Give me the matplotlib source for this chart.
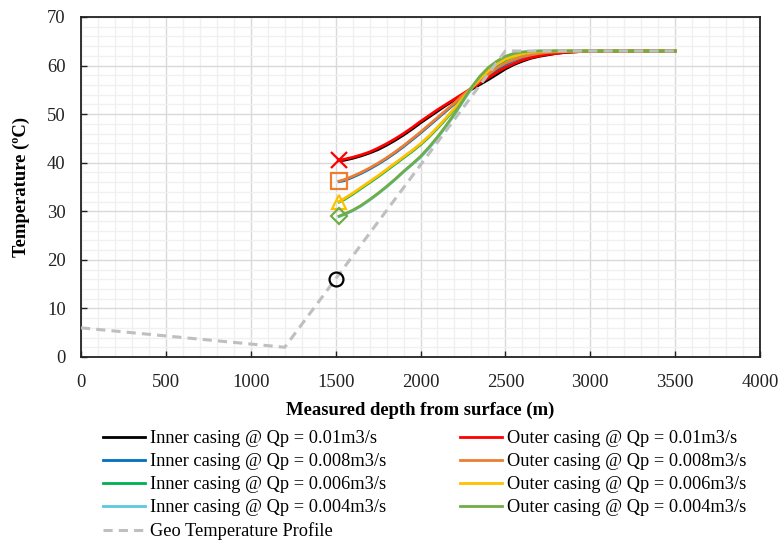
import matplotlib
matplotlib.use("Agg")
import matplotlib.pyplot as plt
from matplotlib.ticker import MultipleLocator

plt.rcParams['font.family'] = ['Liberation Serif', 'DejaVu Serif']

# ---- data ----
depth = [1520, 1550, 1600, 1650, 1700, 1750, 1800, 1850, 1900, 1950, 2000,
         2050, 2100, 2150, 2200, 2250, 2300, 2350, 2400, 2450, 2500,
         2550, 2600, 2650, 2700, 2750, 2800, 2850, 2900, 2950, 3000, 3500]

inner_001 = [40.4, 40.5, 40.9, 41.4, 42.0, 42.7, 43.6, 44.6, 45.7, 46.9, 48.2,
             49.4, 50.6, 51.8, 52.9, 54.0, 55.1, 56.1, 57.1, 58.2, 59.3,
             60.2, 60.9, 61.5, 61.9, 62.2, 62.5, 62.7, 62.8, 62.9, 62.95, 63.0]
inner_0008 = [36.1, 36.3, 37.0, 37.8, 38.7, 39.7, 40.8, 42.0, 43.3, 44.7, 46.1,
              47.6, 49.1, 50.6, 52.1, 53.7, 55.2, 56.6, 57.9, 59.1, 60.2,
              61.0, 61.6, 62.1, 62.4, 62.6, 62.8, 62.9, 62.95, 63.0, 63.0, 63.0]
inner_0006 = [31.9, 32.4, 33.5, 34.7, 35.9, 37.1, 38.4, 39.7, 41.0, 42.3, 43.7,
              45.3, 47.1, 49.0, 51.0, 53.1, 55.2, 57.1, 58.7, 60.1, 61.1,
              61.8, 62.3, 62.6, 62.8, 62.9, 63.0, 63.0, 63.0, 63.0, 63.0, 63.0]
inner_0004 = [28.9, 29.3, 30.1, 31.1, 32.3, 33.6, 35.0, 36.5, 38.1, 39.6, 41.1,
              43.0, 45.1, 47.4, 49.9, 52.6, 55.3, 57.6, 59.4, 60.8, 61.8,
              62.4, 62.7, 62.9, 63.0, 63.0, 63.0, 63.0, 63.0, 63.0, 63.0, 63.0]
outer_001 = [40.5, 40.7, 41.1, 41.6, 42.2, 43.0, 43.9, 44.9, 46.0, 47.2, 48.5,
             49.7, 50.9, 52.0, 53.1, 54.2, 55.3, 56.4, 57.5, 58.6, 59.6,
             60.4, 61.1, 61.6, 62.0, 62.3, 62.5, 62.7, 62.8, 62.9, 62.95, 63.0]
outer_0008 = [36.2, 36.5, 37.2, 38.0, 38.9, 39.9, 41.0, 42.2, 43.5, 44.9, 46.3,
              47.8, 49.3, 50.8, 52.3, 53.9, 55.4, 56.9, 58.2, 59.5, 60.5,
              61.2, 61.8, 62.2, 62.5, 62.7, 62.8, 62.9, 62.95, 63.0, 63.0, 63.0]
outer_0006 = [32.0, 32.6, 33.7, 34.9, 36.1, 37.3, 38.6, 39.9, 41.2, 42.5, 43.9,
              45.5, 47.3, 49.2, 51.2, 53.3, 55.4, 57.3, 58.9, 60.3, 61.3,
              61.9, 62.4, 62.7, 62.85, 62.95, 63.0, 63.0, 63.0, 63.0, 63.0, 63.0]
outer_0004 = [29.0, 29.4, 30.2, 31.2, 32.4, 33.7, 35.1, 36.6, 38.2, 39.7, 41.3,
              43.2, 45.3, 47.6, 50.1, 52.8, 55.5, 57.8, 59.6, 60.9, 61.9,
              62.5, 62.8, 62.9, 63.0, 63.0, 63.0, 63.0, 63.0, 63.0, 63.0, 63.0]

geo_depth = [0, 1200, 2500, 3500]
geo_temp = [6, 2, 63, 63]

# start markers
marker_depth = [1520, 1520, 1520, 1520, 1500]
marker_temp = [40.5, 36.2, 32.0, 29.0, 16.0]

inner_labels = ["Inner casing @ Qp = 0.01m3/s", "Inner casing @ Qp = 0.008m3/s",
                "Inner casing @ Qp = 0.006m3/s", "Inner casing @ Qp = 0.004m3/s"]
outer_labels = ["Outer casing @ Qp = 0.01m3/s", "Outer casing @ Qp = 0.008m3/s",
                "Outer casing @ Qp = 0.006m3/s", "Outer casing @ Qp = 0.004m3/s"]
geo_label = "Geo Temperature Profile"

inner_colors = ["#000000", "#0070C0", "#00B050", "#5BC8E0"]
outer_colors = ["#FF0000", "#ED7D31", "#FFC000", "#70AD47"]

FS = 13.4
LFS = 13.2

fig = plt.figure(figsize=(7.79, 5.55), dpi=100)
ax = fig.add_axes([0.104, 0.3568, 0.8716, 0.6126])

inner_series = [inner_001, inner_0008, inner_0006, inner_0004]
outer_series = [outer_001, outer_0008, outer_0006, outer_0004]

handles = []
for vals, c, lab in zip(inner_series, inner_colors, inner_labels):
    h, = ax.plot(depth, vals, color=c, lw=2.0, label=lab, zorder=3,
                 solid_joinstyle="round")
    handles.append(h)
hg, = ax.plot(geo_depth, geo_temp, color="#BFBFBF", lw=2.2, ls=(0, (3, 2)),
              label=geo_label, zorder=4)
outer_handles = []
for vals, c, lab in zip(outer_series, outer_colors, outer_labels):
    h, = ax.plot(depth, vals, color=c, lw=2.0, label=lab, zorder=3.5,
                 solid_joinstyle="round")
    outer_handles.append(h)

# markers
mk_styles = [("x", "#FF0000", 12), ("s", "#ED7D31", 12), ("^", "#FFC000", 10),
             ("D", "#70AD47", 8), ("o", "#000000", 10)]
for xd, yt, (m, c, s) in zip(marker_depth, marker_temp, mk_styles):
    ax.plot([xd], [yt], marker=m, ms=s, mfc="none", mec=c, mew=1.6,
            ls="none", zorder=5)

ax.set_xlim(0, 4000)
ax.set_ylim(0, 70)
ax.xaxis.set_major_locator(MultipleLocator(500))
ax.xaxis.set_minor_locator(MultipleLocator(100))
ax.yaxis.set_major_locator(MultipleLocator(10))
ax.yaxis.set_minor_locator(MultipleLocator(2))
ax.grid(which="major", color="#D9D9D9", lw=1.0, zorder=0)
ax.grid(which="minor", color="#F0F0F0", lw=1.0, zorder=0)
ax.set_axisbelow(True)
ax.tick_params(which="major", direction="in", length=4, width=1,
               labelsize=FS, colors="#222222")
ax.tick_params(axis="x", which="major", pad=12)
ax.tick_params(axis="y", which="major", pad=11)
ax.tick_params(which="minor", length=0)
for sp in ax.spines.values():
    sp.set_color("#222222")
    sp.set_linewidth(1.3)

ax.set_xlabel("Measured depth from surface (m)", fontsize=FS,
              fontweight="bold", labelpad=8)
ax.set_ylabel("Temperature (ºC)", fontsize=FS, fontweight="bold",
              labelpad=12)

leg_handles = handles + [hg] + outer_handles
leg_labels = inner_labels + [geo_label] + outer_labels
fig.legend(leg_handles, leg_labels, ncol=2, loc="upper left",
           bbox_to_anchor=(0.132, 0.225), frameon=False, fontsize=LFS,
           handlelength=2.3, handletextpad=0.25, columnspacing=4.05,
           labelspacing=0.33, borderaxespad=0, borderpad=0)

fig.savefig("out.png", dpi=100)
